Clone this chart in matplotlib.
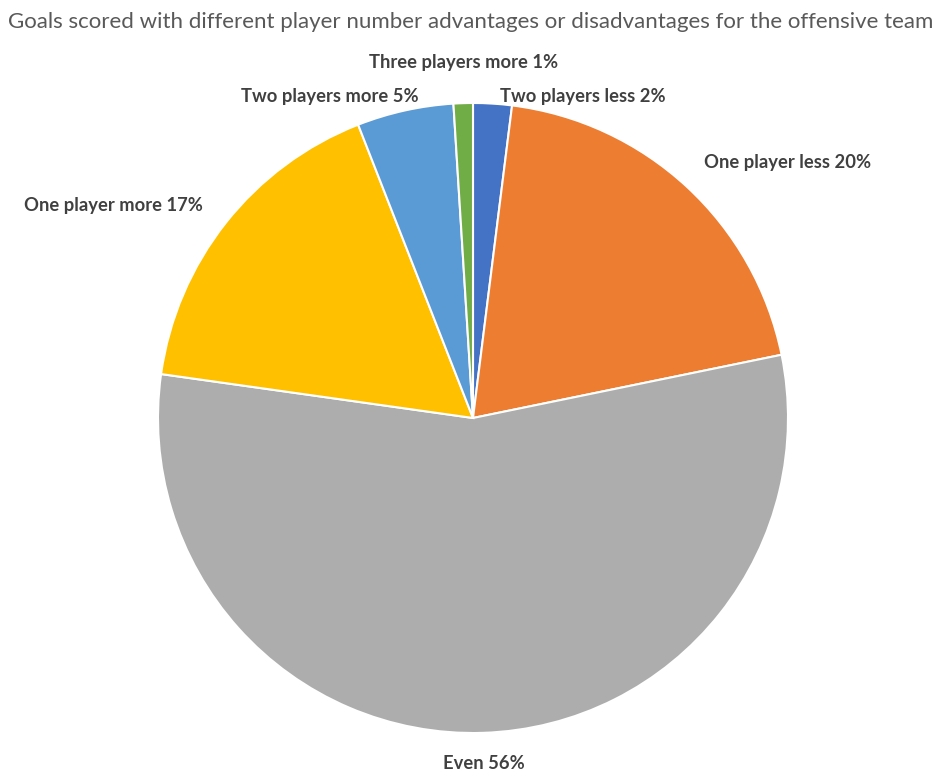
import matplotlib
matplotlib.use("Agg")
import matplotlib.pyplot as plt
import numpy as np

# Share of goals by player-number situation of the offensive team
categories = ["Two players less", "One player less", "Even",
              "One player more", "Two players more", "Three players more"]
shares = [2, 20, 56, 17, 5, 1]
colors = ["#4472C4", "#ED7D31", "#ADADAD", "#FFC000", "#5B9BD5", "#70AD47"]

# label anchor points (in pie-radius units) for each category
label_xy = [(0.349, 1.022), (1.0, 0.810), (0.035, -1.098),
            (-1.140, 0.676), (-0.454, 1.022), (-0.029, 1.130)]

W, H = 941, 774
fig = plt.figure(figsize=(W / 100, H / 100), dpi=100)
cx, cy, r = 473, 418, 315
ax = fig.add_axes([(cx - r) / W, (H - cy - r) / H, 2 * r / W, 2 * r / H])

ax.pie(shares, colors=colors, startangle=90, counterclock=False,
       wedgeprops=dict(edgecolor="white", linewidth=1.5), radius=1.0)
ax.set_xlim(-1, 1)
ax.set_ylim(-1, 1)
ax.set_aspect("equal")
ax.axis("off")

for name, val, (lx, ly) in zip(categories, shares, label_xy):
    ax.text(lx, ly, f"{name} {val}%", ha="center", va="center",
            fontsize=13.2, fontweight="bold", family=["Lato", "DejaVu Sans"],
            color="#404040", clip_on=False)

fig.text(0.5, 1 - 22 / H,
         "Goals scored with different player number advantages or disadvantages for the offensive team",
         ha="center", va="center", fontsize=16, family=["Lato", "DejaVu Sans"],
         color="#595959")

fig.savefig("out.png", dpi=100, facecolor="white")
